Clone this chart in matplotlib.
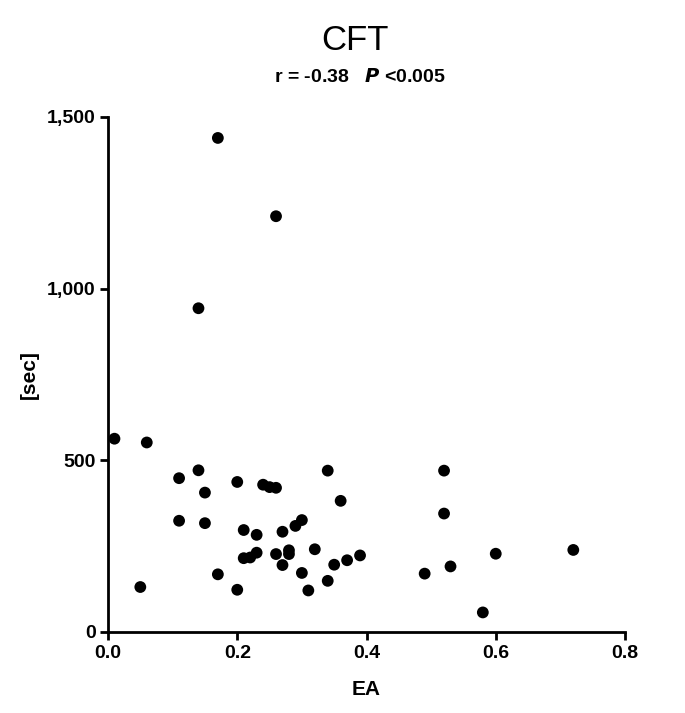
import matplotlib
matplotlib.use("Agg")
import matplotlib.pyplot as plt
from matplotlib import font_manager

names = {f.name for f in font_manager.fontManager.ttflist}
narrow = "Liberation Sans Narrow" if "Liberation Sans Narrow" in names else "Liberation Sans"
plt.rcParams['font.family'] = [narrow, 'DejaVu Sans']

ea = [0.01, 0.06, 0.11, 0.14, 0.15, 0.11, 0.15, 0.20, 0.24, 0.25, 0.26, 0.34, 0.36,
      0.21, 0.23, 0.27, 0.29, 0.30, 0.21, 0.22, 0.23, 0.26, 0.28, 0.28, 0.27, 0.32,
      0.30, 0.17, 0.20, 0.05, 0.31, 0.34, 0.35, 0.37, 0.39,
      0.52, 0.52, 0.60, 0.72, 0.53, 0.49, 0.58,
      0.17, 0.26, 0.14]
cft = [563, 552, 448, 471, 406, 324, 317, 437, 429, 422, 420, 470, 382,
       297, 283, 292, 309, 326, 215, 217, 231, 227, 238, 227, 195, 241,
       172, 168, 123, 131, 121, 149, 196, 209, 223,
       470, 345, 228, 239, 191, 170, 57,
       1439, 1211, 943]

xticks = [0.0, 0.2, 0.4, 0.6, 0.8]
xticklabels = ["0.0", "0.2", "0.4", "0.6", "0.8"]
yticks = [0, 500, 1000, 1500]
yticklabels = ["0", "500", "1,000", "1,500"]

fig = plt.figure(figsize=(6.85, 7.13), dpi=100)
ax = fig.add_axes([108/685, 81/713, 517/685, 515/713])
ax.scatter(ea, cft, s=72, color='black', edgecolors='none', zorder=3, clip_on=False)
ax.set_xlim(0, 0.8)
ax.set_ylim(0, 1500)
ax.set_xticks(xticks)
ax.set_xticklabels(xticklabels)
ax.set_yticks(yticks)
ax.set_yticklabels(yticklabels)
for s in ['top', 'right']:
    ax.spines[s].set_visible(False)
for s in ['left', 'bottom']:
    ax.spines[s].set_linewidth(2)
ax.tick_params(axis='both', width=2, length=6, labelsize=14, direction='out', pad=3)
for lab in ax.get_xticklabels() + ax.get_yticklabels():
    lab.set_fontweight('bold')
ax.set_xlabel("EA", fontsize=15, fontweight='bold', labelpad=13)
ax.set_ylabel("[sec]", fontsize=15, fontweight='bold', labelpad=6)

fig.text(355/685, 1 - 41/713, "CFT", ha='center', va='center', fontsize=25)
fig.text(360/685, 1 - 77/713, "r = -0.38   $\\boldsymbol{P}$ <0.005", ha='center', va='center',
         fontsize=14, fontweight='bold')

fig.savefig("out.png", dpi=100)
